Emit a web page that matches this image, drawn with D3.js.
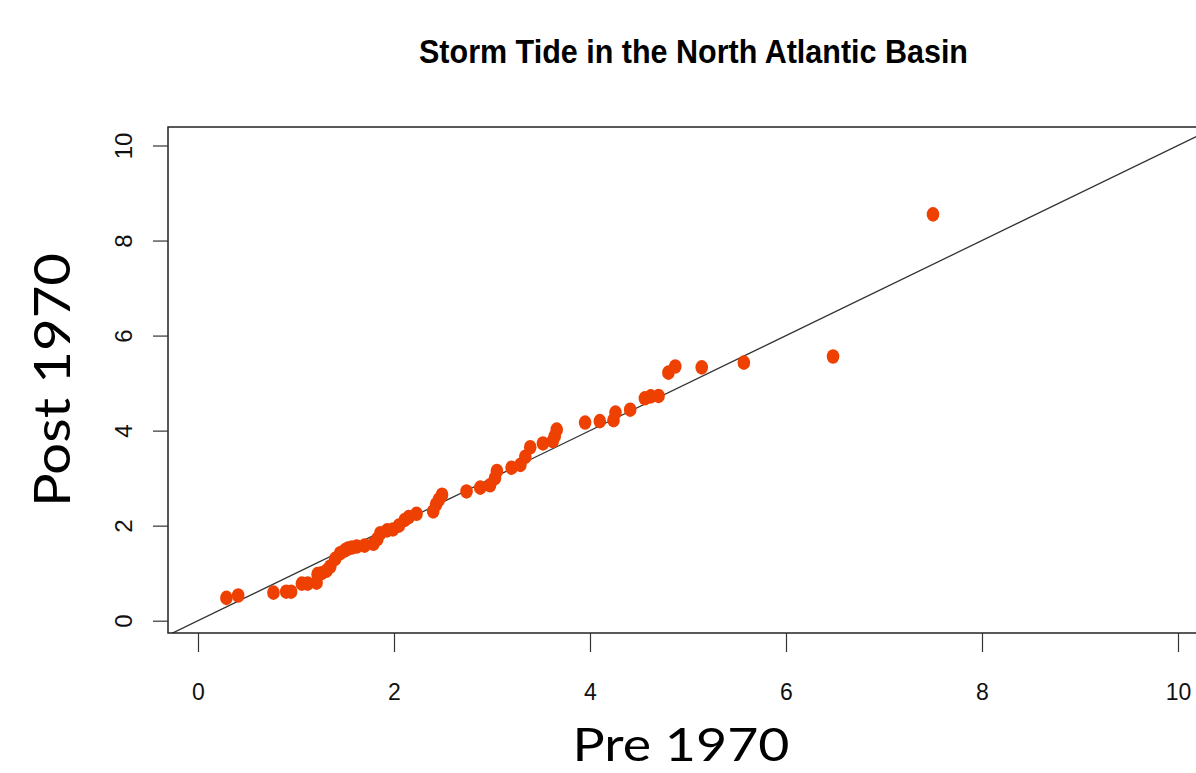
<!DOCTYPE html>
<html>
<head>
<meta charset="utf-8">
<script src="https://cdn.jsdelivr.net/npm/d3@7"></script>
<style>
  html, body { margin: 0; padding: 0; background: #fff; }
  svg { display: block; }
</style>
</head>
<body>
<script>
// ---- data (quantiles) ----
const pre1970 = [0.29,0.41,0.77,0.90,0.95,1.06,1.12,1.21,1.22,1.26,1.31,1.35,1.40,1.45,1.50,1.53,1.57,1.62,1.70,1.79,1.83,1.86,1.93,1.99,2.05,2.11,2.15,2.23,2.40,2.43,2.46,2.49,2.74,2.88,2.98,3.03,3.05,3.20,3.29,3.34,3.39,3.52,3.62,3.64,3.66,3.95,4.10,4.24,4.26,4.41,4.56,4.62,4.70,4.80,4.87,5.14,5.57,6.48,7.50];
const post1970 = [0.48,0.53,0.59,0.61,0.61,0.78,0.78,0.80,0.98,1.00,1.05,1.14,1.30,1.42,1.48,1.52,1.54,1.56,1.58,1.62,1.72,1.84,1.90,1.92,2.00,2.12,2.18,2.25,2.30,2.45,2.55,2.65,2.72,2.80,2.85,3.00,3.15,3.22,3.28,3.45,3.65,3.73,3.78,3.88,4.02,4.17,4.20,4.22,4.38,4.44,4.68,4.72,4.73,5.22,5.35,5.33,5.43,5.56,8.55];
const xTicks = [0, 2, 4, 6, 8, 10];
const yTicks = [0, 2, 4, 6, 8, 10];
const refLine = [[-1, -1], [11, 11]]; // y = x reference line
const title = "Storm Tide in the North Atlantic Basin";
const xTitle = "Pre 1970";
const yTitle = "Post 1970";

const W = 1196, H = 773;
const box = { left: 168, top: 127, right: 1200, bottom: 633 };

const svg = d3.select("body").append("svg").attr("width", W).attr("height", H);

const x = d3.scaleLinear().domain([0, 10]).range([198, 1178]);
const y = d3.scaleLinear().domain([0, 10]).range([620.7, 145.5]);

svg.append("defs").append("clipPath").attr("id", "plotclip")
  .append("rect").attr("x", box.left).attr("y", box.top)
  .attr("width", box.right - box.left).attr("height", box.bottom - box.top);

// reference line
svg.append("path")
  .attr("clip-path", "url(#plotclip)")
  .attr("d", d3.line().x(d => x(d[0])).y(d => y(d[1]))(refLine))
  .attr("stroke", "#333").attr("stroke-width", 1.3).attr("fill", "none");

// points
const pts = pre1970.map((v, i) => ({ a: v, b: post1970[i] }));
svg.append("g").attr("clip-path", "url(#plotclip)")
  .selectAll("ellipse").data(pts).join("ellipse")
  .attr("cx", d => x(d.a)).attr("cy", d => y(d.b))
  .attr("rx", 6.3).attr("ry", 7.3)
  .attr("fill", "#EE4000");

// box
svg.append("rect")
  .attr("x", box.left).attr("y", box.top)
  .attr("width", box.right - box.left).attr("height", box.bottom - box.top)
  .attr("fill", "none").attr("stroke", "#222").attr("stroke-width", 1.5);

// x axis
const gx = svg.append("g").attr("transform", `translate(0,${box.bottom})`)
  .call(d3.axisBottom(x).tickValues(xTicks).tickSize(19).tickFormat(d3.format("d")));
gx.select(".domain").remove();
gx.selectAll(".tick line").attr("stroke", "#333").attr("stroke-width", 1.2);
gx.selectAll(".tick text")
  .attr("y", 67).attr("dy", 0)
  .attr("fill", "#111")
  .style("font-family", "'Liberation Sans', Arial, sans-serif")
  .style("font-size", "23px");

// y axis
const gy = svg.append("g").attr("transform", `translate(${box.left},0)`)
  .call(d3.axisLeft(y).tickValues(yTicks).tickSize(15).tickFormat(d3.format("d")));
gy.select(".domain").remove();
gy.selectAll(".tick line").attr("stroke", "#333").attr("stroke-width", 1.2);
gy.selectAll(".tick text")
  .attr("transform", "rotate(-90)")
  .attr("x", 0).attr("y", -36).attr("dy", 0)
  .attr("text-anchor", "middle")
  .attr("fill", "#111")
  .style("font-family", "'Liberation Sans', Arial, sans-serif")
  .style("font-size", "24px");

// title
svg.append("text")
  .attr("x", 693.5).attr("y", 63)
  .attr("text-anchor", "middle")
  .attr("textLength", 549).attr("lengthAdjust", "spacingAndGlyphs")
  .style("font-family", "'Liberation Sans', Arial, sans-serif")
  .style("font-weight", "bold").style("font-size", "33px")
  .attr("fill", "#000")
  .text(title);

// axis titles
svg.append("text")
  .attr("x", 681).attr("y", 761)
  .attr("text-anchor", "middle")
  .attr("textLength", 217).attr("lengthAdjust", "spacingAndGlyphs")
  .style("font-family", "Lato, 'Open Sans', sans-serif")
  .style("font-size", "46px")
  .attr("fill", "#000")
  .text(xTitle);

svg.append("text")
  .attr("transform", "translate(70,380) rotate(-90)")
  .attr("text-anchor", "middle")
  .attr("textLength", 254).attr("lengthAdjust", "spacingAndGlyphs")
  .style("font-family", "Lato, 'Open Sans', sans-serif")
  .style("font-size", "50px")
  .attr("fill", "#000")
  .text(yTitle);
</script>
</body>
</html>
